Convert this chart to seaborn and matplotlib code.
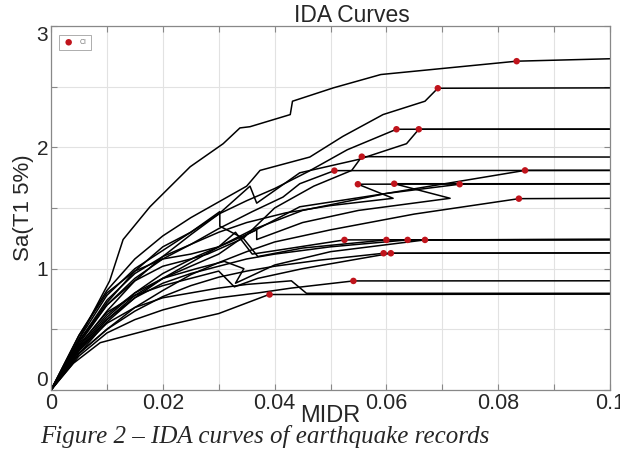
import matplotlib
matplotlib.use("Agg")
import matplotlib.pyplot as plt
import seaborn as sns
import pandas as pd
import numpy as np

# IDA curves, one list per record (MIDR, Sa)
rec_x = [
    [0, .005, .0105, .0129, .0177, .0249, .0308, .0338, .0356, .0428, .0432, .0505, .059, .0833, .1],
    [0, .005, .01, .015, .02, .025, .03, .035, .0374, .0463, .0522, .0594, .0669, .0692, .1],
    [0, .005, .01, .015, .02, .025, .03, .035, .04, .046, .053, .0618, .1],
    [0, .005, .01, .015, .02, .025, .03, .0356, .0368, .0445, .055, .0636, .0658, .1],
    [0, .005, .01, .015, .02, .025, .0302, .0302, .0344, .04, .047, .0538, .0556, .1],
    [0, .005, .01, .015, .02, .025, .03, .036, .0415, .0445, .0507, .1],
    [0, .005, .01, .015, .02, .025, .03, .036, .045, .06, .0848, .1],
    [0, .005, .01, .015, .02, .025, .03, .035, .042, .05, .0612, .0549, .1],
    [0, .005, .01, .015, .02, .026, .032, .0368, .0368, .045, .055, .0714, .0614, .1],
    [0, .005, .01, .015, .02, .025, .03, .035, .0445, .06, .0731, .1],
    [0, .005, .01, .015, .02, .025, .03, .035, .04, .05, .065, .0837, .1],
    [0, .005, .01, .015, .02, .025, .03, .033, .036, .041, .0525, .1],
    [0, .005, .01, .015, .02, .025, .028, .0344, .037, .045, .06, .1],
    [0, .005, .01, .015, .02, .025, .03, .035, .04, .05, .0638, .1],
    [0, .005, .01, .015, .02, .026, .031, .0345, .033, .04, .05, .0669, .1],
    [0, .005, .01, .015, .02, .025, .03, .035, .04, .048, .0595, .1],
    [0, .005, .01, .015, .02, .025, .03, .0328, .037, .045, .0608, .1],
    [0, .005, .01, .015, .02, .025, .03, .037, .043, .0541, .1],
    [0, .004, .0088, .0195, .03, .039, .1],
    [0, .005, .01, .015, .02, .025, .03, .035, .043, .0457, .1],
]
rec_y = [
    [0, .42, .9, 1.24, 1.51, 1.84, 2.03, 2.16, 2.17, 2.27, 2.38, 2.49, 2.60, 2.71, 2.73],
    [0, .45, .82, 1.08, 1.27, 1.42, 1.55, 1.68, 1.81, 1.92, 2.09, 2.27, 2.38, 2.487, 2.49],
    [0, .4, .72, .98, 1.18, 1.3, 1.45, 1.56, 1.66, 1.8, 1.98, 2.149, 2.15],
    [0, .36, .65, .9, 1.1, 1.28, 1.45, 1.68, 1.54, 1.79, 1.9, 2.03, 2.149, 2.15],
    [0, .42, .78, 1.0, 1.15, 1.3, 1.47, 1.35, 1.25, 1.5, 1.68, 1.81, 1.923, 1.92],
    [0, .38, .7, .92, 1.08, 1.2, 1.33, 1.47, 1.59, 1.70, 1.808, 1.81],
    [0, .3, .56, .76, .92, 1.05, 1.18, 1.32, 1.48, 1.62, 1.81, 1.81],
    [0, .4, .74, .96, 1.1, 1.2, 1.3, 1.38, 1.46, 1.52, 1.58, 1.696, 1.70],
    [0, .34, .6, .8, .96, 1.1, 1.22, 1.32, 1.24, 1.38, 1.48, 1.58, 1.70, 1.70],
    [0, .32, .58, .78, .92, 1.02, 1.12, 1.28, 1.51, 1.62, 1.696, 1.70],
    [0, .3, .5, .68, .82, .95, 1.05, 1.14, 1.22, 1.32, 1.45, 1.577, 1.58],
    [0, .45, .8, .98, 1.08, 1.12, 1.18, 1.3, 1.12, 1.155, 1.237, 1.24],
    [0, .4, .7, .9, 1.02, 1.08, 1.12, 1.25, 1.1, 1.17, 1.237, 1.24],
    [0, .33, .58, .76, .88, .96, 1.02, 1.08, 1.12, 1.18, 1.237, 1.24],
    [0, .35, .62, .8, .92, 1.0, 1.06, 1.0, .88, 1.03, 1.14, 1.237, 1.24],
    [0, .3, .5, .65, .77, .86, .93, .98, 1.02, 1.07, 1.127, 1.13],
    [0, .37, .64, .78, .86, .92, .98, .85, .92, 1.0, 1.127, 1.13],
    [0, .28, .47, .58, .66, .72, .76, .8, .84, .899, .90],
    [0, .22, .39, .52, .63, .787, .79],
    [0, .33, .55, .68, .76, .8, .84, .87, .90, .797, .797],
]

# collapse points (CI)
ci_x = [.0833, .0692, .0618, .0658, .0556, .0507, .0848, .0549, .0614, .0731,
        .0837, .0525, .0600, .0638, .0669, .0595, .0608, .0541, .0391]
ci_y = [2.71, 2.487, 2.149, 2.149, 1.923, 1.808, 1.81, 1.696, 1.70, 1.696,
        1.577, 1.237, 1.237, 1.237, 1.237, 1.127, 1.127, .899, .787]

rows = []
for i, (xs, ys) in enumerate(zip(rec_x, rec_y)):
    for j, (a, b) in enumerate(zip(xs, ys)):
        rows.append((i, j, a, b))
df = pd.DataFrame(rows, columns=['rec', 'step', 'MIDR', 'Sa'])
ci = pd.DataFrame({'MIDR': ci_x, 'Sa': ci_y})

sns.set_style('white')
plt.rcParams['font.family'] = ['Liberation Sans', 'DejaVu Sans']

fig = plt.figure(figsize=(6.2, 4.54), dpi=100)
ax = fig.add_axes([51/620, 1 - 390/454, 559/620, 364/454])

sns.lineplot(data=df, x='MIDR', y='Sa', units='rec', estimator=None, sort=False,
             color='black', lw=1.1, ax=ax, legend=False)
sns.scatterplot(data=ci, x='MIDR', y='Sa', color='#c0141c', s=22, edgecolor='none',
                ax=ax, label='CI', zorder=5)

ax.set_xlim(0, 0.1)
ax.set_ylim(0, 3)
ax.set_xticks(np.arange(0, 0.1001, 0.01))
ax.set_xticklabels(['0', '', '0.02', '', '0.04', '', '0.06', '', '0.08', '', '0.1'], fontsize=15.5)
ax.set_yticks(np.arange(0, 3.01, 0.5))
ax.set_yticklabels(['0', '', '1', '', '2', '', '3'], fontsize=15)
# end labels sit inside the axis range, as in the original
ylabs = ax.get_yticklabels()
ylabs[0].set_va('bottom')
ylabs[-1].set_va('top')
ax.grid(True, color='#e2e2e2', lw=0.8)
ax.tick_params(direction='in', length=4, color='#888888', top=True, right=True,
               bottom=True, left=True, pad=2)
for sp in ax.spines.values():
    sp.set_color('#888888')
    sp.set_linewidth(0.9)

ax.set_xlabel('MIDR', fontsize=17)
ax.xaxis.set_label_coords(0.5, -0.04)
ax.set_ylabel('Sa(T1 5%)', fontsize=16, labelpad=2)

fig.text(352/620, 1 - 16/454, 'IDA Curves', fontsize=16.5, ha='center', va='center')

leg = ax.legend(loc='upper left', fontsize=5, markerscale=1.0, handlelength=1.6,
                borderpad=0.6, frameon=True, fancybox=False, bbox_to_anchor=(0.008, 0.985))
leg.get_frame().set_edgecolor('#888888')
leg.get_frame().set_linewidth(0.6)
for t in leg.get_texts():
    t.set_color('#777777')

fig.text(40/620, 1 - 437/454, 'Figure 2 – IDA curves of earthquake records',
         fontsize=18, family='Liberation Serif', style='italic', va='center', ha='left')

fig.savefig('out.png', dpi=100)
